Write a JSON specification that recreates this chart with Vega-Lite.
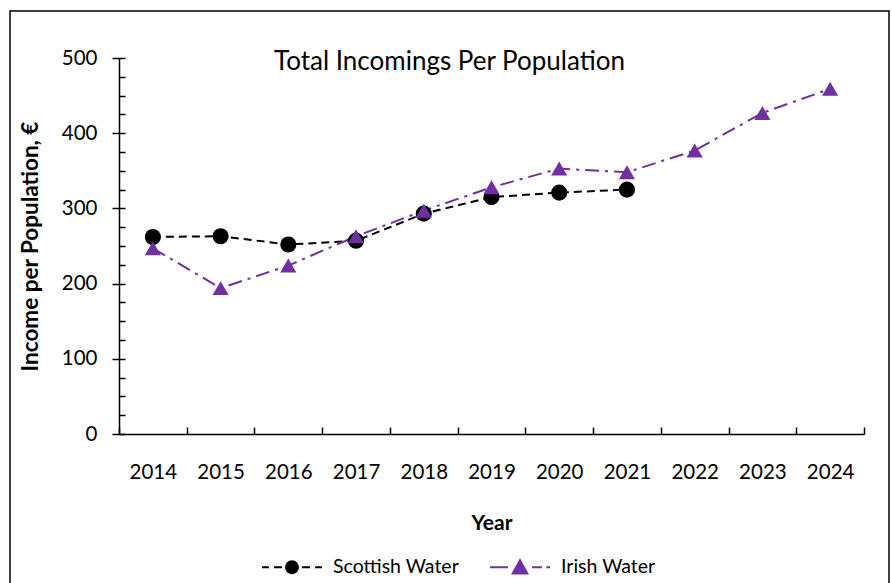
{
  "$schema": "https://vega.github.io/schema/vega-lite/v6.json",
  "autosize": {"type": "none"},
  "padding": {"left": 10, "top": 11, "right": 3, "bottom": 0},
  "width": 879,
  "height": 600,
  "background": "white",
  "config": {
    "font": "Lato",
    "view": {"stroke": "black", "strokeWidth": 1.5},
    "axis": {
      "grid": false,
      "domainColor": "black",
      "domainWidth": 1.5,
      "tickColor": "black",
      "tickWidth": 1.5,
      "labelColor": "black",
      "titleColor": "black",
      "labelFont": "Lato",
      "titleFont": "Lato",
      "labelFontSize": 20.5,
      "titleFontSize": 21
    }
  },
  "title": {
    "text": "Total Incomings Per Population",
    "font": "Lato",
    "fontSize": 26,
    "fontWeight": "normal",
    "color": "black",
    "anchor": "middle",
    "offset": -64
  },
  "data": {
    "values": [
      {"year": 2014, "series": "Scottish Water", "value": 262},
      {"year": 2015, "series": "Scottish Water", "value": 263},
      {"year": 2016, "series": "Scottish Water", "value": 252},
      {"year": 2017, "series": "Scottish Water", "value": 257},
      {"year": 2018, "series": "Scottish Water", "value": 293},
      {"year": 2019, "series": "Scottish Water", "value": 315},
      {"year": 2020, "series": "Scottish Water", "value": 321},
      {"year": 2021, "series": "Scottish Water", "value": 325},
      {"year": 2014, "series": "Irish Water", "value": 247},
      {"year": 2015, "series": "Irish Water", "value": 194},
      {"year": 2016, "series": "Irish Water", "value": 224},
      {"year": 2017, "series": "Irish Water", "value": 263},
      {"year": 2018, "series": "Irish Water", "value": 297},
      {"year": 2019, "series": "Irish Water", "value": 328},
      {"year": 2020, "series": "Irish Water", "value": 353},
      {"year": 2021, "series": "Irish Water", "value": 348},
      {"year": 2022, "series": "Irish Water", "value": 377},
      {"year": 2023, "series": "Irish Water", "value": 427},
      {"year": 2024, "series": "Irish Water", "value": 459}
    ]
  },
  "layer": [
    {
      "mark": {"type": "line", "strokeWidth": 2},
      "encoding": {
        "x": {
          "field": "year",
          "type": "quantitative",
          "scale": {"domain": [2013.5, 2024.5], "range": [109, 854], "nice": false, "zero": false},
          "axis": {
            "values": [2013.5, 2014.5, 2015.5, 2016.5, 2017.5, 2018.5, 2019.5, 2020.5, 2021.5, 2022.5, 2023.5, 2024.5],
            "tickSize": -7,
            "labelOffset": 33.86,
            "labelExpr": "datum.value > 2024 ? '' : format(datum.value + 0.5, 'd')",
            "labelPadding": 35,
            "labelFlush": false,
            "labelOverlap": false,
            "labelBound": false,
            "offset": -177,
            "title": "Year",
            "titleFontWeight": "bold",
            "titlePadding": 30
          }
        },
        "y": {
          "field": "value",
          "type": "quantitative",
          "scale": {"domain": [0, 500], "range": [423, 47], "nice": false, "zero": true},
          "axis": {
            "values": [0, 100, 200, 300, 400, 500],
            "tickSize": 7,
            "labelPadding": 15,
            "offset": -109,
            "title": "Income per Population, €",
            "titleFontWeight": "bold",
            "titleFontSize": 22.5,
            "titlePadding": 19
          }
        },
        "color": {
          "field": "series",
          "type": "nominal",
          "scale": {"domain": ["Scottish Water", "Irish Water"], "range": ["black", "#7030A0"]},
          "legend": null
        },
        "strokeDash": {
          "field": "series",
          "type": "nominal",
          "scale": {"domain": ["Scottish Water", "Irish Water"], "range": [[8, 5], [14, 6, 3, 6]]},
          "legend": null
        }
      }
    },
    {
      "mark": {"type": "point", "filled": true, "opacity": 1, "size": 260, "strokeWidth": 0},
      "encoding": {
        "x": {"field": "year", "type": "quantitative"},
        "y": {
          "field": "value",
          "type": "quantitative",
          "scale": {"domain": [0, 500], "range": [423, 47], "nice": false, "zero": true},
          "axis": {
            "orient": "left",
            "values": [0, 25, 50, 75, 100, 125, 150, 175, 200, 225, 250, 275, 300, 325, 350, 375, 400, 425, 450, 475, 500],
            "tickSize": -6,
            "labels": false,
            "domain": false,
            "title": null,
            "offset": -109
          }
        },
        "color": {
          "field": "series",
          "type": "nominal",
          "scale": {"domain": ["Scottish Water", "Irish Water"], "range": ["black", "#7030A0"]},
          "legend": null
        },
        "shape": {
          "field": "series",
          "type": "nominal",
          "scale": {"domain": ["Scottish Water", "Irish Water"], "range": ["circle", "triangle-up"]},
          "legend": null
        }
      }
    },
    {
      "transform": [{"filter": "false"}],
      "mark": {"type": "point", "filled": true},
      "encoding": {
        "x": {"field": "year", "type": "quantitative"},
        "y": {
          "field": "value",
          "type": "quantitative",
          "scale": {"domain": [0, 500], "range": [423, 47], "nice": false, "zero": true},
          "axis": null
        },
        "color": {
          "field": "series",
          "type": "nominal",
          "scale": {"domain": ["Scottish Water", "Irish Water"], "range": ["black", "#7030A0"]},
          "legend": {
            "orient": "none",
            "legendX": 252,
            "legendY": 526,
            "direction": "horizontal",
            "columns": 2,
            "columnPadding": 31,
            "title": null,
            "padding": 0,
            "symbolSize": 3600,
            "symbolStrokeWidth": 0,
            "symbolOpacity": 1,
            "labelFont": "Lato",
            "labelFontSize": 19.5,
            "labelColor": "black",
            "labelOffset": 11
          }
        },
        "shape": {
          "field": "series",
          "type": "nominal",
          "scale": {
            "domain": ["Scottish Water", "Irish Water"],
            "range": [
              "M-1,-0.035H-0.77V0.035H-1Z M-0.6,-0.035H-0.33V0.035H-0.6Z M0.33,-0.035H0.6V0.035H0.33Z M0.77,-0.035H1V0.035H0.77Z M-0.23,0A0.23,0.23 0 1,0 0.23,0A0.23,0.23 0 1,0 -0.23,0Z",
              "M-1,-0.035H-0.4V0.035H-1Z M0.4,-0.035H0.73V0.035H0.4Z M0.88,-0.035H1V0.035H0.88Z M-0.3,0.24L0.3,0.24L0,-0.3Z"
            ]
          },
          "legend": {
            "orient": "none",
            "legendX": 252,
            "legendY": 526,
            "direction": "horizontal",
            "columns": 2,
            "columnPadding": 31,
            "title": null,
            "padding": 0,
            "symbolSize": 3600,
            "symbolStrokeWidth": 0,
            "symbolOpacity": 1,
            "labelFont": "Lato",
            "labelFontSize": 19.5,
            "labelColor": "black",
            "labelOffset": 11
          }
        }
      }
    }
  ],
  "resolve": {
    "scale": {"y": "independent", "color": "independent", "shape": "independent", "strokeDash": "independent"},
    "axis": {"y": "independent"}
  }
}
